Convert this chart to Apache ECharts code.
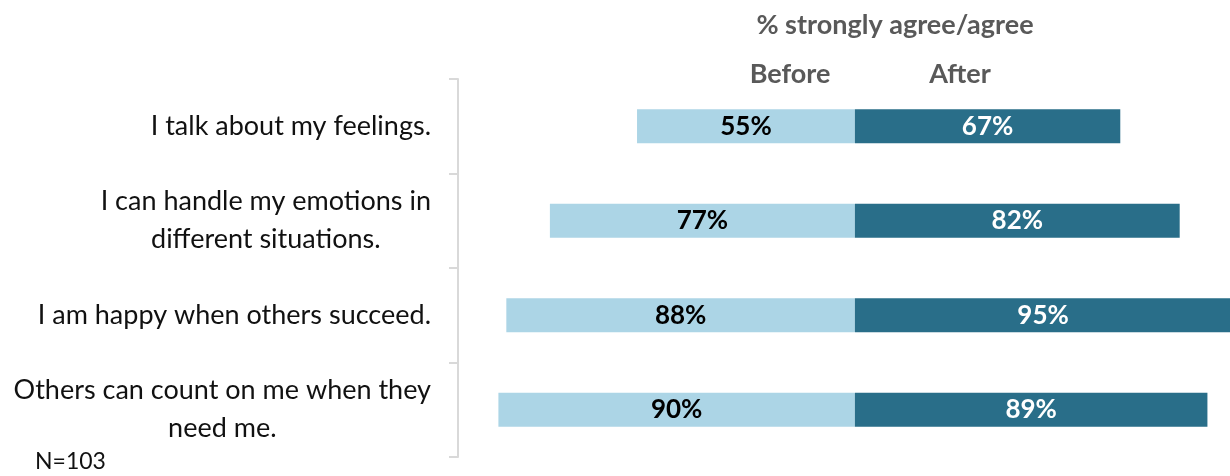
<!DOCTYPE html>
<html>
<head>
<meta charset="utf-8">
<script src="https://cdn.jsdelivr.net/npm/echarts@6/dist/echarts.min.js"></script>
<style>
  html, body { margin: 0; padding: 0; background: #fff; }
  #chart { width: 1230px; height: 476px; }
</style>
</head>
<body>
<div id="chart"></div>
<script>
// Survey statements (top to bottom)
const statements = [
  'I talk about my feelings.',
  'I can handle my emotions in\ndifferent situations.',
  'I am happy when others succeed.',
  'Others can count on me when they\nneed me.'
];
// % strongly agree/agree
const beforeValues = [55, 77, 88, 90];
const afterValues = [67, 82, 95, 89];
const sampleNote = 'N=103';

const FONT = 'Lato, "Open Sans", sans-serif';
const LIGHT = '#acd5e6';
const DARK = '#296e89';

const chart = echarts.init(document.getElementById('chart'), null, { renderer: 'canvas' });

chart.setOption({
  animation: false,
  backgroundColor: '#ffffff',
  grid: { left: 458, right: 0, top: 79, bottom: 19, containLabel: false },
  xAxis: {
    type: 'value',
    min: -100.2,
    max: 94.7,
    show: false
  },
  yAxis: {
    type: 'category',
    inverse: true,
    data: statements,
    axisLine: { show: true, onZero: false, lineStyle: { color: '#d9d9d9', width: 2 } },
    axisTick: { show: true, length: 9, lineStyle: { color: '#d9d9d9', width: 2 } },
    axisLabel: {
      margin: 27,
      align: 'right',
      // each wrapped line is centred inside the right-anchored block
      formatter: v => v.split('\n').map(line => '{c|' + line + '}').join('\n'),
      rich: {
        c: {
          align: 'center',
          color: '#111111',
          fontFamily: FONT,
          fontSize: 27,
          lineHeight: 38
        }
      }
    },
    splitLine: { show: false }
  },
  series: [
    {
      name: 'Before',
      type: 'bar',
      stack: 'pair',
      barWidth: 34,
      data: beforeValues.map(v => -v),
      itemStyle: { color: LIGHT },
      label: {
        show: true,
        position: 'inside',
        formatter: p => Math.abs(p.value) + '%',
        color: '#000000',
        fontFamily: FONT,
        fontWeight: 'bold',
        fontSize: 26
      }
    },
    {
      name: 'After',
      type: 'bar',
      stack: 'pair',
      barWidth: 34,
      clip: false,
      data: afterValues,
      itemStyle: { color: DARK },
      label: {
        show: true,
        position: 'inside',
        formatter: p => p.value + '%',
        color: '#ffffff',
        fontFamily: FONT,
        fontWeight: 'bold',
        fontSize: 26
      }
    }
  ],
  graphic: [
    {
      type: 'text', x: 895, y: 25,
      style: { text: '% strongly agree/agree', fill: '#595959', font: 'bold 27px ' + FONT, align: 'center', verticalAlign: 'middle' }
    },
    {
      type: 'text', x: 790, y: 74,
      style: { text: 'Before', fill: '#595959', font: 'bold 27px ' + FONT, align: 'center', verticalAlign: 'middle' }
    },
    {
      type: 'text', x: 960, y: 74,
      style: { text: 'After', fill: '#595959', font: 'bold 27px ' + FONT, align: 'center', verticalAlign: 'middle' }
    },
    {
      type: 'text', x: 35, y: 462,
      style: { text: sampleNote, fill: '#111111', font: '23px ' + FONT, align: 'left', verticalAlign: 'middle' }
    }
  ]
});
</script>
</body>
</html>
